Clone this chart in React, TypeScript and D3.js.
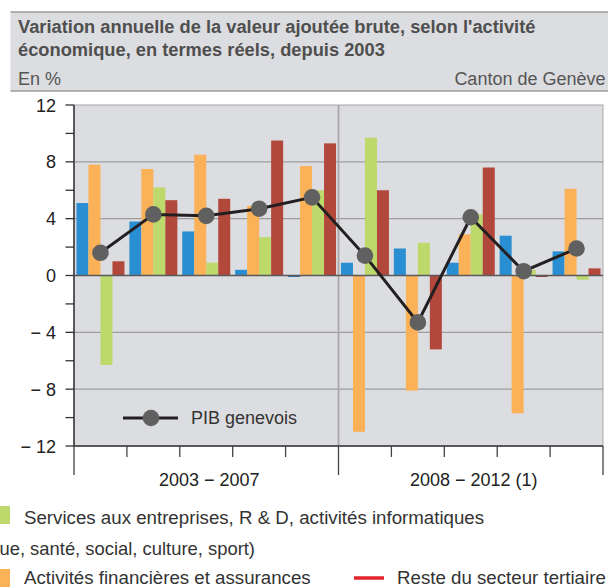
import React from "react";
import * as d3 from "d3";

// values, in %
const years = ["2003", "2004", "2005", "2006", "2007", "2008", "2009", "2010", "2011", "2012"];
const blueValues = [5.1, 3.8, 3.1, 0.4, -0.1, 0.9, 1.9, 0.9, 2.8, 1.7];
const orangeValues = [7.8, 7.5, 8.5, 4.9, 7.7, -11.0, -8.1, 2.9, -9.7, 6.1];
const greenValues = [-6.3, 6.2, 0.9, 2.7, 6.0, 9.7, 2.3, 4.3, 0.4, -0.3];
const redValues = [1.0, 5.3, 5.4, 9.5, 9.3, 6.0, -5.2, 7.6, -0.1, 0.5];
const pibValues = [1.6, 4.3, 4.2, 4.7, 5.5, 1.4, -3.3, 4.1, 0.3, 1.9];

const periods = ["2003 − 2007", "2008 − 2012 (1)"];
const yTicks = [-12, -8, -4, 0, 4, 8, 12];
const yMinorTicks = [-10, -6, -2, 2, 6, 10];

const series = [
  { key: "blue", values: blueValues, color: "#2a8fd2" },
  { key: "orange", values: orangeValues, color: "#fbb157" },
  { key: "green", values: greenValues, color: "#bdd86b" },
  { key: "red", values: redValues, color: "#b2473b" },
];

const W = 608;
const H = 587;
const font = "'Liberation Sans', Arial, sans-serif";

const fmt = (v: number) => (v < 0 ? `− ${Math.abs(v)}` : `${v}`);

export default function App() {
  const left = 74;
  const right = 603;
  const top = 105;
  const bottom = 446;

  const x = d3.scaleBand<string>().domain(years).range([left, right]).paddingInner(0.093).paddingOuter(0.0465);
  const xs = d3.scaleBand<string>().domain(series.map((s) => s.key)).range([0, x.bandwidth()]);
  const y = d3.scaleLinear().domain([-12, 12]).range([bottom, top]);

  const step = x.step();
  const periodX = d3.scaleLinear().domain([0, years.length]).range([left, right]);

  const line = d3
    .line<number>()
    .x((_, i) => (x(years[i]) as number) + x.bandwidth() / 2)
    .y((d) => y(d));

  // tiny negative bars show up darker in the reference
  const barFill = (key: string, color: string, v: number) =>
    v < 0 && Math.abs(v) < 0.2 ? (key === "blue" ? "#1f6ea8" : "#8e3228") : color;

  return (
    <svg width={W} height={H} style={{ position: "absolute", left: 0, top: 0 }} fontFamily={font}>
      {/* header band */}
      <rect x={10.5} y={12} width={W} height={79} fill="#dcdde0" />
      <line x1={10.5} x2={W} y1={12} y2={12} stroke="#9b9b9b" strokeWidth={1.5} />
      <line x1={10.5} x2={W} y1={91} y2={91} stroke="#9b9b9b" strokeWidth={1.5} />
      <text x={18} y={32.5} fontSize={18.3} fontWeight="bold" fill="#4f4f4f">
        Variation annuelle de la valeur ajoutée brute, selon l'activité
      </text>
      <text x={18} y={55.5} fontSize={18.3} fontWeight="bold" fill="#4f4f4f">
        économique, en termes réels, depuis 2003
      </text>
      <text x={18} y={85} fontSize={18} fill="#555">En %</text>
      <text x={605.5} y={85} fontSize={18} fill="#555" textAnchor="end">Canton de Genève</text>

      {/* plot area */}
      <rect x={left} y={top} width={right - left} height={bottom - top} fill="#dcdde0" stroke="#a8a8a8" strokeWidth={1} />
      {yTicks
        .filter((t) => t !== 0 && t !== 12 && t !== -12)
        .map((t) => (
          <line key={t} x1={left} x2={right} y1={y(t)} y2={y(t)} stroke="#9d9d9d" strokeWidth={1.3} />
        ))}
      <line x1={periodX(5)} x2={periodX(5)} y1={top} y2={bottom} stroke="#a9a9a9" strokeWidth={1.8} />

      {/* bars */}
      {series.map((s) =>
        s.values.map((v, i) => (
          <rect
            key={s.key + i}
            x={(x(years[i]) as number) + (xs(s.key) as number)}
            y={Math.min(y(v), y(0))}
            width={xs.bandwidth()}
            height={Math.abs(y(v) - y(0))}
            fill={barFill(s.key, s.color, v)}
          />
        ))
      )}

      <line x1={left} x2={right} y1={y(0)} y2={y(0)} stroke="#5a5a5a" strokeWidth={1.5} />

      {/* PIB line */}
      <path d={line(pibValues) || ""} fill="none" stroke="#231f20" strokeWidth={3} />
      {pibValues.map((v, i) => (
        <circle key={i} cx={(x(years[i]) as number) + x.bandwidth() / 2} cy={y(v)} r={8.3} fill="#606060" />
      ))}

      {/* in-plot legend */}
      <line x1={123} x2={178} y1={418} y2={418} stroke="#231f20" strokeWidth={3} />
      <circle cx={151} cy={418} r={8.3} fill="#606060" />
      <text x={191} y={424} fontSize={18} fill="#333">PIB genevois</text>

      {/* y axis */}
      <line x1={left} x2={left} y1={top} y2={bottom} stroke="#333" strokeWidth={1.5} />
      {yTicks.concat(yMinorTicks).map((t) => (
        <line key={"t" + t} x1={left - 8.5} x2={left} y1={y(t)} y2={y(t)} stroke="#333" strokeWidth={1.3} />
      ))}
      {yTicks.map((t) => (
        <text key={"l" + t} x={56} y={y(t) + 6.5} fontSize={18} textAnchor="end" fill="#222">
          {fmt(t)}
        </text>
      ))}

      {/* x axis */}
      <line x1={left} x2={right} y1={bottom} y2={bottom} stroke="#333" strokeWidth={1.5} />
      {d3.range(years.length + 1).map((i) => (
        <line
          key={"x" + i}
          x1={left + i * step}
          x2={left + i * step}
          y1={bottom}
          y2={i % 5 === 0 ? 475 : 457}
          stroke="#444"
          strokeWidth={1.3}
        />
      ))}
      {periods.map((p, i) => (
        <text key={p} x={(periodX(i * 5) + periodX(i * 5 + 5)) / 2 + 3} y={485.5} fontSize={18} textAnchor="middle" fill="#222">
          {p}
        </text>
      ))}

      {/* bottom legend (cropped in the reference) */}
      <rect x={-8} y={506} width={18} height={18} fill="#bdd86b" />
      <text x={24} y={524} fontSize={18.7} fill="#333">Services aux entreprises, R &amp; D, activités informatiques</text>
      <text x={255} y={555} fontSize={18.4} fill="#333" textAnchor="end">
        Services non marchands (administration publique, santé, social, culture, sport)
      </text>
      <rect x={-8} y={569} width={18} height={18} fill="#fbb157" />
      <text x={24} y={584} fontSize={18.7} fill="#333">Activités financières et assurances</text>
      <line x1={354} x2={384} y1={578} y2={578} stroke="#e3242b" strokeWidth={3.5} />
      <text x={397} y={584} fontSize={18.7} fill="#333">Reste du secteur tertiaire</text>
    </svg>
  );
}
